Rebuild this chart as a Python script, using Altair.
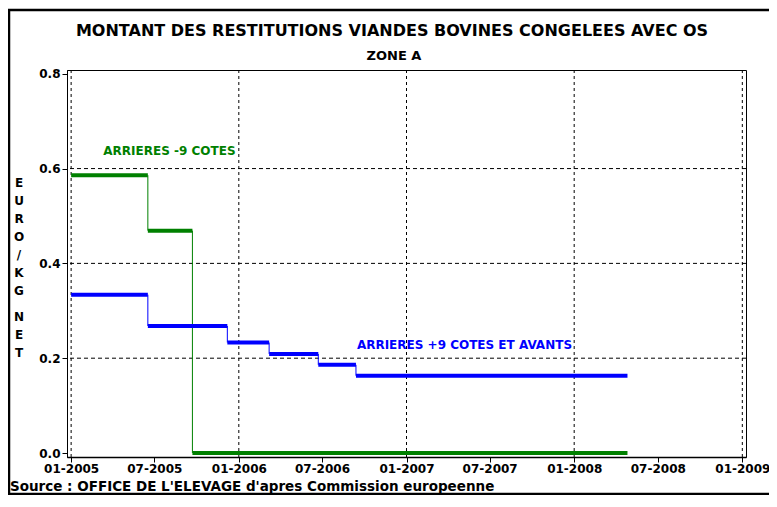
import altair as alt
import pandas as pd

# ---------------- data ----------------
GREEN_NAME = "ARRIERES -9 COTES"
BLUE_NAME = "ARRIERES +9 COTES ET AVANTS"

GREEN_STARTS = ["2005-01-01", "2005-06-17", "2005-09-22"]
GREEN_ENDS = ["2005-06-17", "2005-09-22", "2008-04-26"]
GREEN_VALUES = [0.586, 0.469, 0.0]

BLUE_STARTS = ["2005-01-01", "2005-06-17", "2005-12-07", "2006-03-08", "2006-06-23", "2006-09-13"]
BLUE_ENDS = ["2005-06-17", "2005-12-07", "2006-03-08", "2006-06-23", "2006-09-13", "2008-04-26"]
BLUE_VALUES = [0.334, 0.268, 0.233, 0.209, 0.186, 0.163]

X_TICKS = ["2005-01-01", "2005-07-01", "2006-01-01", "2006-07-01", "2007-01-01",
           "2007-07-01", "2008-01-01", "2008-07-01", "2009-01-01"]
X_GRID = ["2005-01-01", "2006-01-01", "2007-01-01", "2008-01-01", "2009-01-01"]
Y_TICKS = [0.0, 0.2, 0.4, 0.6, 0.8]
Y_GRID = [0.2, 0.4, 0.6]

LABEL_TEXTS = [GREEN_NAME, BLUE_NAME]
LABEL_DATES = ["2005-03-12", "2006-09-15"]
LABEL_VALUES = [0.637, 0.228]

TITLE = "MONTANT DES RESTITUTIONS VIANDES BOVINES CONGELEES AVEC OS"
SUBTITLE = "ZONE A"
SOURCE = "Source : OFFICE DE L'ELEVAGE d'apres Commission europeenne"
Y_TITLE_1 = ["E", "U", "R", "O", "/", "K", "G"]
Y_TITLE_2 = ["N", "E", "T"]

FONT = "DejaVu Sans"
GREEN = "#008000"
BLUE = "#0000ff"

# ---------------- tables built from the lists ----------------
def seg_rows(name, starts, ends, values):
    return [{"series": name, "start": pd.to_datetime(s), "end": pd.to_datetime(e), "value": v}
            for s, e, v in zip(starts, ends, values)]

def conn_rows(name, starts, values):
    return [{"series": name, "date": pd.to_datetime(starts[i]), "v0": values[i - 1], "v1": values[i]}
            for i in range(1, len(starts))]

segs = pd.DataFrame(seg_rows(GREEN_NAME, GREEN_STARTS, GREEN_ENDS, GREEN_VALUES)
                    + seg_rows(BLUE_NAME, BLUE_STARTS, BLUE_ENDS, BLUE_VALUES))
conns = pd.DataFrame(conn_rows(GREEN_NAME, GREEN_STARTS, GREEN_VALUES)
                     + conn_rows(BLUE_NAME, BLUE_STARTS, BLUE_VALUES))
labels = pd.DataFrame({"series": LABEL_TEXTS, "date": pd.to_datetime(LABEL_DATES),
                       "value": LABEL_VALUES})
xgrid = pd.DataFrame({"date": pd.to_datetime(X_GRID)})
ygrid = pd.DataFrame({"value": Y_GRID})

def dt(s):
    d = pd.to_datetime(s)
    return alt.DateTime(year=d.year, month=d.month, date=d.day)

x_scale = alt.Scale(domain=[alt.DateTime(year=2004, month=12, date=23),
                            alt.DateTime(year=2009, month=1, date=9)])
y_scale = alt.Scale(domain=[-0.0084, 0.8079], nice=False, zero=False)
color = alt.Color("series:N", scale=alt.Scale(domain=[GREEN_NAME, BLUE_NAME], range=[GREEN, BLUE]),
                  legend=None)

x_axis = alt.Axis(values=[dt(s) for s in X_TICKS], format="%m-%Y", grid=False, title=None,
                  labelFont=FONT, labelFontWeight="bold", labelFontSize=12, labelColor="black",
                  labelPadding=1, labelFlush=False, labelOverlap=False,
                  tickColor="black", tickSize=5, domainColor="black", domainWidth=1.5)
y_axis = alt.Axis(values=Y_TICKS, format=".1f", grid=False, title=None,
                  labelFont=FONT, labelFontWeight="bold", labelFontSize=12, labelColor="black",
                  labelPadding=2, tickColor="black", tickSize=5, domainColor="black")

X = lambda f: alt.X(f, scale=x_scale, axis=x_axis)
Y = lambda f: alt.Y(f, scale=y_scale, axis=y_axis)

vgrid = alt.Chart(xgrid).mark_rule(color="black", strokeWidth=1, strokeDash=[3, 3]).encode(
    x=X("date:T"))
hgrid = alt.Chart(ygrid).mark_rule(color="black", strokeWidth=1, strokeDash=[4, 3]).encode(
    y=Y("value:Q"))

connectors = alt.Chart(conns).mark_rule(strokeWidth=1).encode(
    x=X("date:T"), y=Y("v0:Q"), y2="v1:Q", color=color)

segments = alt.Chart(segs).mark_rule(strokeWidth=4, strokeCap="butt").encode(
    x=X("start:T"), x2="end:T", y=Y("value:Q"), color=color)

label_layer = alt.Chart(labels).mark_text(align="left", baseline="middle", font=FONT,
                                          fontSize=12, fontWeight="bold").encode(
    x=X("date:T"), y=Y("value:Q"), text="series:N", color=color)

one = pd.DataFrame({"k": [1]})

def text_layer(text, x, y, size, align="center", baseline="alphabetic", line_height=None):
    kw = dict(align=align, baseline=baseline, font=FONT, fontSize=size, fontWeight="bold",
              color="black")
    if line_height is not None:
        kw["lineHeight"] = line_height
    return alt.Chart(one).mark_text(**kw).encode(
        text=alt.value(text), x=alt.value(x), y=alt.value(y))

title_layer = text_layer(TITLE, 325, -34, 16)
subtitle_layer = text_layer(SUBTITLE, 327, -10, 13)
ytitle1 = text_layer(Y_TITLE_1, -48, 108, 12, baseline="top", line_height=18)
ytitle2 = text_layer(Y_TITLE_2, -48, 242, 12, baseline="top", line_height=18)
source_layer = text_layer(SOURCE, -57, 421, 13.5, align="left")

frame_layer = alt.Chart(one).mark_rect(
    fillOpacity=0, stroke="black", strokeWidth=2.5).encode(
    x=alt.value(-58), x2=alt.value(714), y=alt.value(-60), y2=alt.value(424))

chart = alt.layer(
    vgrid, hgrid, connectors, segments, label_layer,
    title_layer, subtitle_layer, ytitle1, ytitle2, source_layer, frame_layer
).properties(
    width=679, height=387,
    autosize=alt.AutoSizeParams(type="none"),
    padding={"left": 59, "top": 62, "right": 23, "bottom": 38},
    background="white",
).configure_view(stroke="black", strokeWidth=1)

chart.save("out.html", embed_options={"renderer": "svg", "actions": False})
